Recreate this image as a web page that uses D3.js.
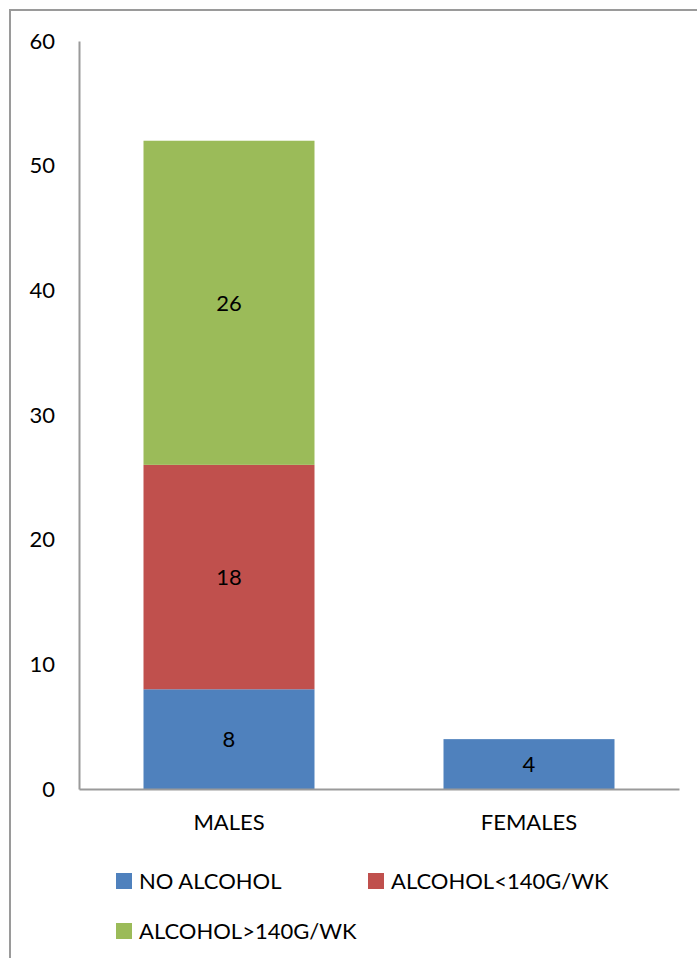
<!DOCTYPE html>
<html>
<head>
<meta charset="utf-8">
<script src="https://cdn.jsdelivr.net/npm/d3@7"></script>
<style>
  body { margin: 0; background: #fff; }
  svg text { font-family: Lato, "Open Sans", sans-serif; fill: #000; }
</style>
</head>
<body>
<svg id="chart"></svg>
<script>
var categories = ['MALES', 'FEMALES'];
var seriesNames = ['NO ALCOHOL', 'ALCOHOL<140G/WK', 'ALCOHOL>140G/WK'];
var noAlcohol = [8, 4];
var alcoholLow = [18, 0];
var alcoholHigh = [26, 0];
var yTicks = [0, 10, 20, 30, 40, 50, 60];
var colors = ['#4f81bd', '#c0504d', '#9bbb59'];

var w = 697,
	h = 958,
	fs = 22,
	plot = { left: 79, right: 679, top: 41, bottom: 789 },
	svg, x, y, rows, stack, layers;

svg = d3.select('#chart')
	.attr('width', w)
	.attr('height', h);

// outer chart frame, cut by the picture edge
svg.append('rect')
	.attr('x', 10).attr('y', 10)
	.attr('width', 720).attr('height', 980)
	.attr('fill', 'none')
	.attr('stroke', '#9a9a9a')
	.attr('stroke-width', 2);

x = d3.scaleBand()
	.domain(categories)
	.range([plot.left, plot.right])
	.paddingInner(0.43)
	.paddingOuter(0.215);

y = d3.scaleLinear()
	.domain([0, 60])
	.range([plot.bottom, plot.top]);

rows = categories.map(function (c, i) {
	return { cat: c, a: noAlcohol[i], b: alcoholLow[i], c: alcoholHigh[i] };
});
stack = d3.stack().keys(['a', 'b', 'c']);
layers = stack(rows);

svg.selectAll('g.layer')
	.data(layers)
	.enter()
	.append('g')
	.attr('class', 'layer')
	.attr('fill', function (d, i) { return colors[i]; })
	.each(function (layer) {
		var g = d3.select(this);
		layer.forEach(function (d) {
			if (d[1] - d[0] <= 0) { return; }
			g.append('rect')
				.attr('x', x(d.data.cat))
				.attr('width', x.bandwidth())
				.attr('y', y(d[1]))
				.attr('height', y(d[0]) - y(d[1]));
			g.append('text')
				.attr('x', x(d.data.cat) + x.bandwidth() / 2)
				.attr('y', (y(d[0]) + y(d[1])) / 2)
				.attr('dy', '0.35em')
				.attr('text-anchor', 'middle')
				.attr('font-size', fs)
				.text(d[1] - d[0]);
		});
	});

// axes
var yAxis = svg.append('g')
	.attr('transform', 'translate(' + plot.left + ',0)')
	.call(d3.axisLeft(y).tickValues(yTicks).tickSize(0).tickPadding(24));
yAxis.select('.domain').attr('stroke', '#9a9a9a').attr('stroke-width', 2);
yAxis.selectAll('text').attr('font-size', fs).attr('font-family', 'Lato, sans-serif');

var xAxis = svg.append('g')
	.attr('transform', 'translate(0,' + plot.bottom + ')')
	.call(d3.axisBottom(x).tickSize(0).tickPadding(25));
xAxis.select('.domain').attr('stroke', '#9a9a9a').attr('stroke-width', 2);
xAxis.selectAll('text').attr('font-size', fs).attr('font-family', 'Lato, sans-serif');

// legend
var legendPos = [[116, 881], [368, 881], [116, 931]];
var legend = svg.selectAll('g.legend')
	.data(seriesNames)
	.enter()
	.append('g')
	.attr('class', 'legend')
	.attr('transform', function (d, i) {
		return 'translate(' + legendPos[i][0] + ',' + legendPos[i][1] + ')';
	});
legend.append('rect')
	.attr('x', 0).attr('y', -8)
	.attr('width', 16).attr('height', 16)
	.attr('fill', function (d, i) { return colors[i]; });
legend.append('text')
	.attr('x', 23)
	.attr('dy', '0.35em')
	.attr('font-size', fs)
	.text(function (d) { return d; });
</script>
</body>
</html>
